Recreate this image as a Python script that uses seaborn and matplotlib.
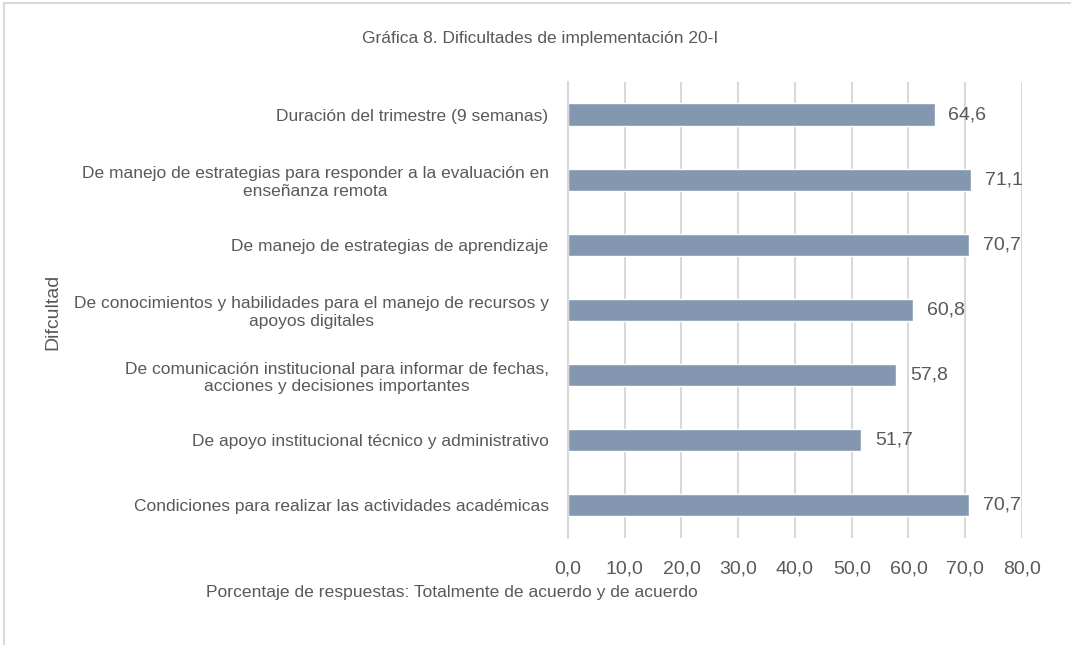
import matplotlib
matplotlib.use("Agg")
import matplotlib.pyplot as plt
import seaborn as sns
import pandas as pd
from matplotlib.lines import Line2D

# -------------------------
# Data
# -------------------------
categorias = [
    "Duración del trimestre (9 semanas)",
    "De manejo de estrategias para responder a la evaluación en\nenseñanza remota",
    "De manejo de estrategias de aprendizaje",
    "De conocimientos y habilidades para el manejo de recursos y\napoyos digitales",
    "De comunicación institucional para informar de fechas,\nacciones y decisiones importantes",
    "De apoyo institucional técnico y administrativo",
    "Condiciones para realizar las actividades académicas",
]
porcentajes = [64.6, 71.1, 70.7, 60.8, 57.8, 51.7, 70.7]
ticks_x = [0, 10, 20, 30, 40, 50, 60, 70, 80]

df = pd.DataFrame({"categoria": categorias, "porcentaje": porcentajes})

sns.set_style("white")
plt.rcParams["font.family"] = ["Liberation Sans", "DejaVu Sans"]
txt = "#595959"

fig = plt.figure(figsize=(10.71, 6.45), dpi=100)
ax = fig.add_axes([0.5303, 0.1659, 0.4239, 0.707])

sns.barplot(data=df, x="porcentaje", y="categoria", order=categorias,
            color="#8497B0", saturation=1, width=0.34, ax=ax)

# value labels
for cont in ax.containers:
    ax.bar_label(cont, labels=[f"{v:.1f}".replace(".", ",") for v in porcentajes],
                 padding=10, fontsize=14, color=txt)

ax.set_xlim(0, 80)
ax.set_xticks(ticks_x)
ax.set_xticklabels([f"{t:.1f}".replace(".", ",") for t in ticks_x], fontsize=14, color=txt)
ax.tick_params(axis="x", length=0, pad=16)
ax.tick_params(axis="y", length=0, pad=14, labelsize=12.5, labelcolor=txt)
for lbl in ax.get_yticklabels():
    lbl.set_multialignment("center")

ax.grid(axis="x", color="#D9D9D9", linewidth=1.5)
ax.set_axisbelow(True)
for s in ["top", "right", "bottom"]:
    ax.spines[s].set_visible(False)
ax.spines["left"].set_color("#D9D9D9")
ax.spines["left"].set_linewidth(1.5)
ax.set_xlabel("")
ax.set_ylabel("")

fig.text(0.504, 0.941, "Gráfica 8. Dificultades de implementación 20-I",
         ha="center", va="center", fontsize=12.5, color=txt)
fig.text(0.049, 0.516, "Difcultad", rotation=90, ha="center", va="center",
         fontsize=14, color=txt)
fig.text(0.422, 0.082, "Porcentaje de respuestas: Totalmente de acuerdo y de acuerdo",
         ha="center", va="center", fontsize=12.6, color=txt)

# chart border (left and top visible)
fig.add_artist(Line2D([0.004, 0.004], [0.0, 0.995], color="#D9D9D9", lw=1.5,
                      transform=fig.transFigure))
fig.add_artist(Line2D([0.004, 1.0], [0.995, 0.995], color="#D9D9D9", lw=1.5,
                      transform=fig.transFigure))

fig.savefig("out.png", dpi=100, facecolor="white")
